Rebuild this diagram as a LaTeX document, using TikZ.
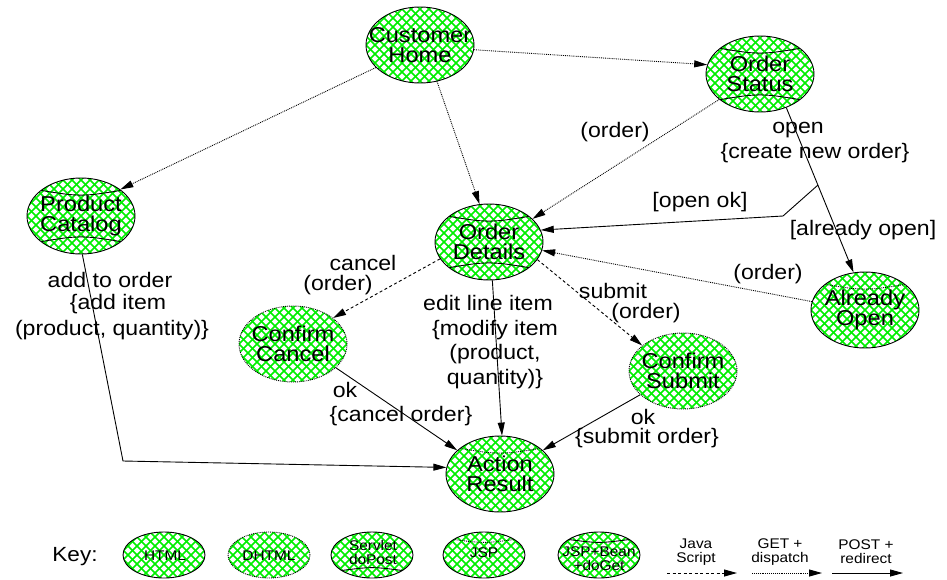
\documentclass[tikz,border=0pt]{standalone}
\usepackage{fontspec}
\setmainfont{Liberation Sans}[FakeStretch=1.1]
\usetikzlibrary{shapes.geometric,arrows.meta,calc}
\definecolor{hgreen}{RGB}{0,238,0}

\newcommand\hatchfill{%
  \foreach \k in {-15,...,15}{%
    \draw[hatchline] ($(path picture bounding box.center)+(\k*9pt-70pt,-70pt)$) -- ++(140pt,140pt);
    \draw[hatchline] ($(path picture bounding box.center)+(\k*9pt+70pt,-70pt)$) -- ++(-140pt,140pt);
  }}
\newcommand\arcline[2]{%
  \draw[black,line width=0.9pt,#1] let \p1=($(path picture bounding box.north east)-(path picture bounding box.center)$) in
    ($(path picture bounding box.center)+(-0.85*\x1,#2*0.7*\y1)$) .. controls ($(path picture bounding box.center)+(0,#2*0.5*\y1)$) .. ($(path picture bounding box.center)+(0.85*\x1,#2*0.7*\y1)$);}

\tikzset{
  hatchline/.style={solid,draw=hgreen,line width=1.6pt},
  state/.style={ellipse,draw=black,line width=0.9pt,inner sep=0pt,minimum width=108pt,minimum height=76pt},
  keystate/.style={ellipse,draw=black,line width=0.9pt,inner sep=0pt,minimum width=82pt,minimum height=46pt},
  html/.style={path picture={\hatchfill}},
  dhtml/.style={densely dotted,path picture={\hatchfill}},
  servlet/.style={path picture={\hatchfill\arcline{solid}{-1}}},
  jsp/.style={path picture={\hatchfill\arcline{densely dotted}{1}}},
  jspbean/.style={path picture={\hatchfill\arcline{solid}{1}}},
  jspboth/.style={path picture={\hatchfill\arcline{solid}{1}\arcline{solid}{-1}}},
  ntext/.style={font={\fontsize{21.5pt}{20pt}\selectfont},align=center,inner sep=0pt},
  lbl/.style={font={\fontsize{21pt}{24pt}\selectfont},inner sep=0pt},
  ktext/.style={font={\fontsize{14pt}{14pt}\selectfont},align=center,inner sep=0pt},
  tip/.style={-{Triangle[length=13pt,width=7pt]}},
  getline/.style={densely dotted,line width=0.9pt,tip},
  jsline/.style={dash pattern=on 3pt off 2.5pt,line width=0.9pt,tip},
  postline/.style={solid,line width=0.9pt,tip},
}

\begin{document}
\begin{tikzpicture}[x=1pt,y=-1pt]
\fill[white] (0,0) rectangle (947,579);
\useasboundingbox (0,0) rectangle (947,579);

% states
\node[state,html]    (ch) at (420,45)  {};
\node[state,jspboth] (os) at (760,74)  {};
\node[state,jspboth] (pc) at (81,216)  {};
\node[state,jspboth] (od) at (489,242) {};
\node[state,dhtml]   (cc) at (293,344) {};
\node[state,jsp]     (ao) at (865,310) {};
\node[state,dhtml]   (cs) at (683,371) {};
\node[state,jsp]     (ar) at (500,474) {};

\node[ntext] (ch-t) at (ch.center) {Customer\\Home};
\node[ntext] (os-t) at (os.center) {Order\\Status};
\node[ntext] (pc-t) at (pc.center) {Product\\Catalog};
\node[ntext] (od-t) at (od.center) {Order\\Details};
\node[ntext] (cc-t) at (cc.center) {Confirm\\Cancel};
\node[ntext] (ao-t) at (ao.center) {Already\\Open};
\node[ntext] (cs-t) at (cs.center) {Confirm\\Submit};
\node[ntext] (ar-t) at (ar.center) {Action\\Result};

% connectors
\draw[getline] (ch.-5) -- (os.170);
\draw[getline] (ch.207) -- (pc.34);
\draw[getline] (ch.-65) -- (od.104);
\draw[getline] (os.212) -- (od.28);
\draw[postline] (os.-52) -- (ao.107);
\coordinate (j1) at ($(os.-52)!0.47!(ao.107)$);
\coordinate (j2) at (783,216);
\draw[postline] (j1) -- (j2) -- (od.13);
\draw[getline] (ao.171) -- (od.-9);
\draw[jsline] (od.199) -- (cc.33);
\draw[jsline] (od.-20) -- (cs.148);
\draw[postline] (od.-85) -- (ar.87);
\coordinate (j3) at (123,461);
\draw[postline] (pc.-88) -- (j3) -- (ar.173);
\draw[postline] (cc.-29) -- (ar.151);
\draw[postline] (cs.209) -- (ar.29);

% labels
\node[lbl] (l-ord1) at (615,132) {(order)};
\node[lbl] (l-open) at (798,130) {open};
\node[lbl] (l-create) at (815,153) {\{create new order\}};
\node[lbl] (l-alr) at (863,230) {[already open]};
\node[lbl] (l-openok) at (700,202) {[open ok]};
\node[lbl] (l-ord2) at (768,274) {(order)};
\node[lbl] (l-cancel) at (363,263) {cancel};
\node[lbl] (l-ord3) at (338,285) {(order)};
\node[lbl] (l-submit) at (613,291) {submit};
\node[lbl] (l-ord4) at (646,313) {(order)};
\node[lbl] (l-edit) at (488,303) {edit line item};
\node[lbl] (l-modify) at (495,330) {\{modify item};
\node[lbl] (l-prod) at (495,354) {(product,};
\node[lbl] (l-qty) at (495,379) {quantity)\}};
\node[lbl] (l-add) at (110,280) {add to order};
\node[lbl] (l-additem) at (118,304) {\{add item};
\node[lbl] (l-pq) at (112,330) {(product, quantity)\}};
\node[lbl] (l-ok1) at (345,390) {ok};
\node[lbl] (l-cancelorder) at (401,416) {\{cancel order\}};
\node[lbl] (l-ok2) at (643,417) {ok};
\node[lbl] (l-submitorder) at (647,438) {\{submit order\}};

% key
\node[font={\fontsize{20.5pt}{20pt}\selectfont},inner sep=0pt] (key) at (75,557) {Key:};
\node[keystate,html]    (k1) at (164,555) {};
\node[keystate,dhtml]   (k2) at (269,555) {};
\node[keystate,servlet] (k3) at (372,555) {};
\node[keystate,jsp]     (k4) at (484,555) {};
\node[keystate,jspbean] (k5) at (599,555) {};
\node[ktext] (k1-t) at (165,556) {HTML};
\node[ktext] (k2-t) at (269,556) {DHTML};
\node[ktext] (k3-t) at (373,552) {Servlet\\doPost};
\node[ktext] (k4-t) at (484,553) {JSP};
\node[ktext] (k5-t) at (599,559) {JSP+Bean\\+doGet};

\node[ktext] (kj-t) at (696,552) {Java\\Script};
\node[ktext] (kg-t) at (780,552) {GET +\\dispatch};
\node[ktext] (kp-t) at (866,552) {POST +\\redirect};
\coordinate (kj-a) at (667,573); \coordinate (kj-b) at (737,573);
\coordinate (kg-a) at (752,573); \coordinate (kg-b) at (822,573);
\coordinate (kp-a) at (832,573); \coordinate (kp-b) at (903,573);
\draw[jsline] (kj-a) -- (kj-b);
\draw[getline] (kg-a) -- (kg-b);
\draw[postline] (kp-a) -- (kp-b);
\end{tikzpicture}
\end{document}
